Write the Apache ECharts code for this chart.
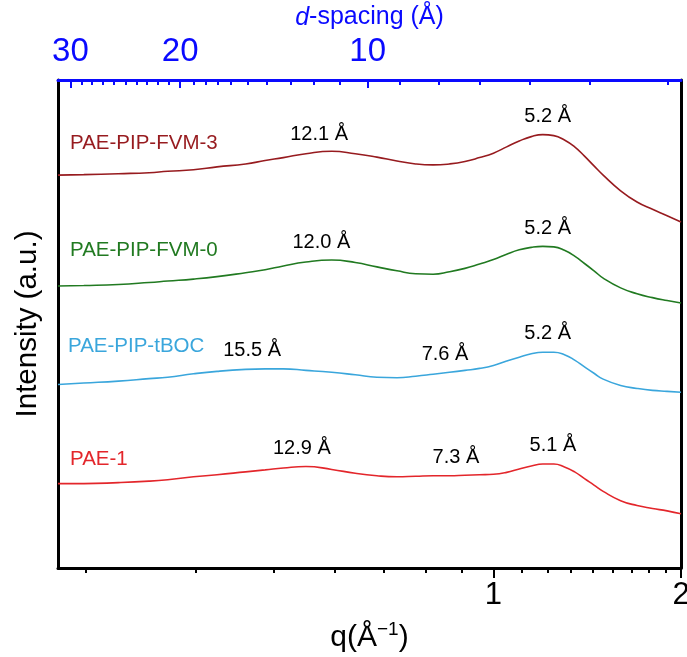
<!DOCTYPE html>
<html>
<head>
<meta charset="utf-8">
<script src="https://cdn.jsdelivr.net/npm/echarts@6/dist/echarts.min.js"></script>
<style>
  html, body { margin: 0; padding: 0; background: #ffffff; }
  #chart { width: 687px; height: 657px; }
</style>
</head>
<body>
<div id="chart"></div>
<script>
// Scattering vector q (1/Å) at which the profiles are sampled
const qValues = [0.2, 0.22, 0.25, 0.28, 0.3, 0.33, 0.36, 0.4, 0.43, 0.46,
                 0.5, 0.55, 0.6, 0.65, 0.7, 0.75, 0.8, 0.85, 0.9, 0.95,
                 1.0, 1.05, 1.1, 1.15, 1.2, 1.25, 1.3, 1.35, 1.4, 1.45,
                 1.5, 1.6, 1.7, 1.8, 1.9, 2.0];

// Offset (stacked) WAXS intensity profiles, arbitrary units
const fvm3 = [8.05, 8.06, 8.08, 8.10, 8.13, 8.16, 8.22, 8.28, 8.35, 8.41,
              8.49, 8.54, 8.49, 8.42, 8.34, 8.28, 8.26, 8.28, 8.33, 8.41,
              8.50, 8.63, 8.75, 8.84, 8.88, 8.86, 8.77, 8.63, 8.44, 8.24,
              8.05, 7.73, 7.50, 7.35, 7.22, 7.09];
const fvm0 = [5.78, 5.79, 5.81, 5.85, 5.88, 5.92, 5.97, 6.05, 6.11, 6.19,
              6.27, 6.31, 6.26, 6.17, 6.09, 6.03, 6.02, 6.07, 6.14, 6.23,
              6.32, 6.43, 6.52, 6.57, 6.59, 6.58, 6.51, 6.39, 6.24, 6.09,
              5.94, 5.74, 5.62, 5.54, 5.48, 5.43];
const tboc = [3.76, 3.79, 3.83, 3.88, 3.91, 3.98, 4.03, 4.07, 4.08, 4.08,
              4.05, 4.01, 3.96, 3.91, 3.90, 3.93, 3.97, 4.01, 4.05, 4.09,
              4.15, 4.24, 4.32, 4.39, 4.42, 4.42, 4.37, 4.26, 4.12, 3.99,
              3.87, 3.74, 3.68, 3.64, 3.62, 3.60];
const pae1 = [1.73, 1.73, 1.75, 1.78, 1.81, 1.87, 1.91, 1.97, 2.01, 2.05,
              2.08, 2.02, 1.94, 1.89, 1.87, 1.88, 1.89, 1.89, 1.90, 1.91,
              1.92, 1.96, 2.03, 2.09, 2.13, 2.13, 2.07, 1.97, 1.83, 1.70,
              1.57, 1.38, 1.28, 1.22, 1.17, 1.11];

// Peak d-spacings (Å) annotated on each profile
const fvm3Peaks = [12.1, 5.2];
const fvm0Peaks = [12.0, 5.2];
const tbocPeaks = [15.5, 7.6, 5.2];
const pae1Peaks = [12.9, 7.3, 5.1];

// Sample names
const sampleNames = ['PAE-PIP-FVM-3', 'PAE-PIP-FVM-0', 'PAE-PIP-tBOC', 'PAE-1'];

// Axis ticks: q (bottom) and d-spacing (top)
const qTickLabels = [1, 2];
const qMinorTicks = [0.222, 0.333, 0.444, 0.556, 0.667, 0.778, 0.889,
                     1.111, 1.222, 1.333, 1.444, 1.556, 1.667, 1.778, 1.889];
const dTickLabels = [30, 20, 10];
const dMinorTicks = [28.8, 27.7, 26.6, 25.6, 24.5, 23.5, 22.6, 21.7, 20.9,
                     19.0, 18.2, 17.4, 16.6, 15.6, 14.5, 13.3, 12.2, 11.1,
                     8.9, 7.7, 6.6, 5.5, 4.4, 3.3];

const Q_MIN = 0.2, Q_MAX = 2;
const FONT = 'Liberation Sans, Arial, Helvetica, sans-serif';
const BLUE = '#0a0aff';
const colors = ['#971b1f', '#217a21', '#3aa6dc', '#e3262b'];
const profiles = [fvm3, fvm0, tboc, pae1];
const peaks = [fvm3Peaks, fvm0Peaks, tbocPeaks, pae1Peaks];

const log10 = Math.log10;
const TWO_PI = 2 * Math.PI;

// Intensity of a profile at q, interpolated in log(q)
function intensityAt(ys, q) {
  const lq = log10(q);
  for (let i = 0; i < qValues.length - 1; i++) {
    const a = log10(qValues[i]), b = log10(qValues[i + 1]);
    if (lq >= a && lq <= b) {
      const t = (lq - a) / (b - a);
      return ys[i] + t * (ys[i + 1] - ys[i]);
    }
  }
  return ys[ys.length - 1];
}

const lineSeries = profiles.map((ys, k) => ({
  name: sampleNames[k],
  type: 'line',
  xAxisIndex: 0,
  yAxisIndex: 0,
  data: qValues.map((q, i) => [q, ys[i]]),
  showSymbol: false,
  smooth: 0.5,
  lineStyle: { color: colors[k], width: 1.6 },
  itemStyle: { color: colors[k] },
  z: 3
}));

// Peak annotations placed at q = 2π/d above each curve
const peakData = [];
peaks.forEach((list, k) => {
  list.forEach(d => {
    const q = TWO_PI / d;
    peakData.push({ value: [q, intensityAt(profiles[k], q)], name: d.toFixed(1) + ' Å' });
  });
});

const peakSeries = {
  type: 'scatter',
  xAxisIndex: 0,
  yAxisIndex: 0,
  data: peakData,
  symbolSize: 1,
  itemStyle: { color: 'rgba(0,0,0,0)', opacity: 1 },
  silent: true,
  label: {
    show: true,
    position: 'top',
    distance: 8,
    offset: [3, 0],
    formatter: '{b}',
    color: '#000',
    opacity: 1,
    textBorderWidth: 0,
    fontSize: 20,
    fontFamily: FONT
  },
  z: 4
};

const LMIN = log10(Q_MIN), LMAX = log10(Q_MAX);

const chart = echarts.init(document.getElementById('chart'), null, { renderer: 'canvas' });

chart.setOption({
  animation: false,
  backgroundColor: '#ffffff',
  grid: { left: 58, right: 6, top: 80, bottom: 89, containLabel: false, outerBoundsMode: 'none' },
  xAxis: [
    {
      // data axis: logarithmic q
      type: 'log',
      logBase: 10,
      min: Q_MIN,
      max: Q_MAX,
      position: 'bottom',
      axisLine: { show: true, onZero: false, lineStyle: { color: '#000', width: 3 } },
      axisTick: { show: false },
      axisLabel: { show: false },
      splitLine: { show: false },
      minorTick: { show: false },
      name: 'q(Å{sup|−1})',
      nameLocation: 'middle',
      nameGap: 52,
      nameTextStyle: {
        fontSize: 30, fontFamily: FONT, color: '#000', lineHeight: 36,
        rich: { sup: { fontSize: 19, fontFamily: FONT, color: '#000', verticalAlign: 'top', lineHeight: 19 } }
      }
    },
    {
      // major q ticks and labels
      type: 'value',
      min: LMIN,
      max: LMAX,
      position: 'bottom',
      axisLine: { show: false, onZero: false },
      axisTick: {
        show: true, inside: false, length: 10,
        customValues: qTickLabels.map(log10),
        lineStyle: { color: '#000', width: 2 }
      },
      axisLabel: {
        show: true,
        customValues: qTickLabels.map(log10),
        formatter: v => String(Math.round(Math.pow(10, v))),
        fontSize: 31, fontFamily: FONT, color: '#000', margin: 12
      },
      splitLine: { show: false }
    },
    {
      // minor q ticks
      type: 'value',
      min: LMIN,
      max: LMAX,
      position: 'bottom',
      axisLine: { show: false, onZero: false },
      axisTick: {
        show: true, inside: false, length: 5,
        customValues: qMinorTicks.map(log10),
        lineStyle: { color: '#000', width: 2 }
      },
      axisLabel: { show: false },
      splitLine: { show: false }
    },
    {
      // top d-spacing axis, d = 2π/q
      type: 'value',
      min: LMIN,
      max: LMAX,
      position: 'top',
      axisLine: { show: true, onZero: false, lineStyle: { color: BLUE, width: 3 } },
      axisTick: {
        show: true, inside: true, length: 8,
        customValues: dTickLabels.map(d => log10(TWO_PI / d)),
        lineStyle: { color: BLUE, width: 2 }
      },
      axisLabel: {
        show: true,
        customValues: dTickLabels.map(d => log10(TWO_PI / d)),
        formatter: v => String(Math.round(TWO_PI / Math.pow(10, v))),
        fontSize: 33, fontFamily: FONT, color: BLUE, margin: 12
      },
      splitLine: { show: false },
      name: '{i|d}-spacing (Å)',
      nameLocation: 'middle',
      nameGap: 45,
      nameTextStyle: {
        fontSize: 25, fontFamily: FONT, color: BLUE,
        rich: { i: { fontSize: 25, fontFamily: FONT, color: BLUE, fontStyle: 'italic' } }
      }
    },
    {
      // minor d-spacing ticks
      type: 'value',
      min: LMIN,
      max: LMAX,
      position: 'top',
      axisLine: { show: false, onZero: false },
      axisTick: {
        show: true, inside: true, length: 5,
        customValues: dMinorTicks.map(d => log10(TWO_PI / d)),
        lineStyle: { color: BLUE, width: 2 }
      },
      axisLabel: { show: false },
      splitLine: { show: false }
    }
  ],
  yAxis: [
    {
      type: 'value',
      min: 0,
      max: 10,
      position: 'left',
      axisLine: { show: true, onZero: false, lineStyle: { color: '#000', width: 3 } },
      axisTick: { show: false },
      axisLabel: { show: false },
      splitLine: { show: false },
      name: 'Intensity (a.u.)',
      nameLocation: 'middle',
      nameGap: 15,
      nameTextStyle: { fontSize: 29.5, fontFamily: FONT, color: '#000' }
    },
    {
      type: 'value',
      min: 0,
      max: 10,
      position: 'right',
      axisLine: { show: true, onZero: false, lineStyle: { color: '#000', width: 3 } },
      axisTick: { show: false },
      axisLabel: { show: false },
      splitLine: { show: false }
    }
  ],
  series: lineSeries.concat([peakSeries]),
  graphic: [
    { type: 'text', x: 70, y: 143, style: { text: sampleNames[0], fill: colors[0], fontSize: 20.5, fontFamily: FONT, verticalAlign: 'middle' } },
    { type: 'text', x: 70, y: 250, style: { text: sampleNames[1], fill: colors[1], fontSize: 20.5, fontFamily: FONT, verticalAlign: 'middle' } },
    { type: 'text', x: 68, y: 346, style: { text: sampleNames[2], fill: colors[2], fontSize: 20.5, fontFamily: FONT, verticalAlign: 'middle' } },
    { type: 'text', x: 70, y: 459, style: { text: sampleNames[3], fill: colors[3], fontSize: 20.5, fontFamily: FONT, verticalAlign: 'middle' } }
  ]
});
</script>
</body>
</html>
